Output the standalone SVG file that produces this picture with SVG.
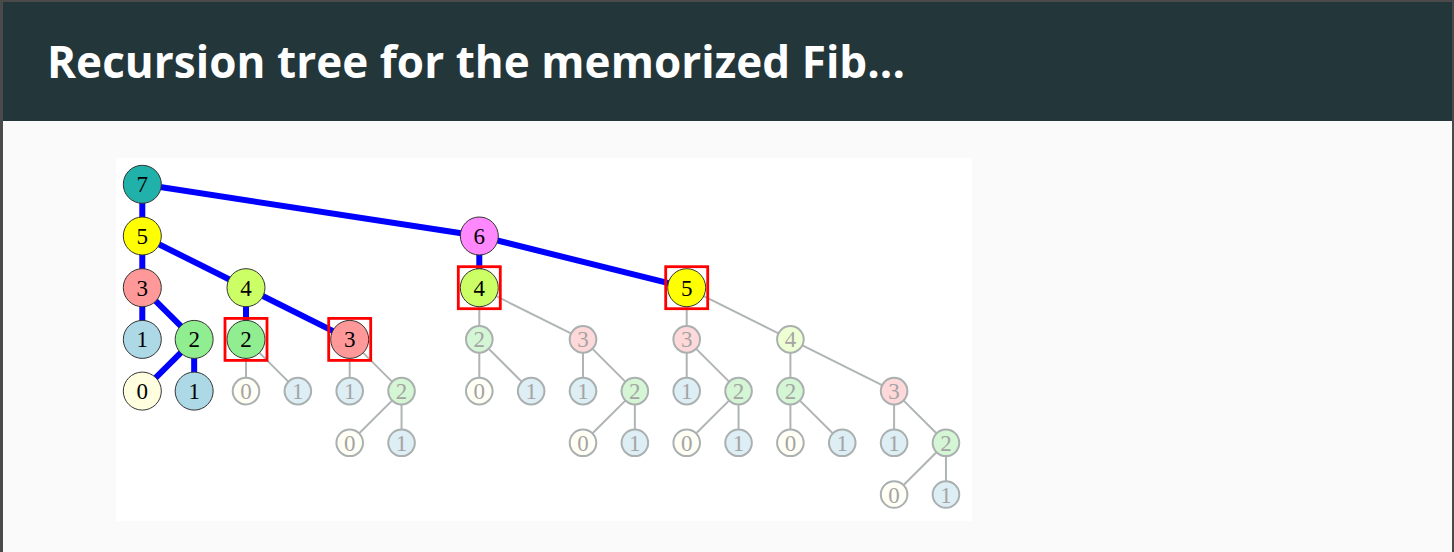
<svg xmlns="http://www.w3.org/2000/svg" width="1454" height="552" viewBox="0 0 1454 552">
<style>
.a{stroke:#333;stroke-width:1}
.g{stroke:#aab0b0;stroke-width:2}
.t{font-family:"Liberation Serif","DejaVu Serif",serif;font-size:23px;text-anchor:middle;fill:#000}
.gt{font-family:"Liberation Serif","DejaVu Serif",serif;font-size:23px;text-anchor:middle;fill:#a4a4a4}
.be{stroke:#0000ff;stroke-width:6;fill:none}
.ge{stroke:#b0b4b4;stroke-width:2;fill:none}
.box{fill:none;stroke:#ff0000;stroke-width:2.8}
</style>
<rect width="1454" height="552" fill="#4a4a4a"/>
<rect x="3" y="2" width="1449" height="550" fill="#fafafa"/>
<rect x="3" y="2" width="1449" height="119" fill="#23373b"/>
<text x="47" y="78" font-family="'Open Sans','Noto Sans',sans-serif" font-weight="bold" font-size="44" fill="#ffffff" textLength="858">Recursion tree for the memorized Fib...</text>
<rect x="116" y="158" width="856" height="363" fill="#ffffff"/>

<g id="connectors">
<g class="ge">
<line x1="246" y1="339.4" x2="246" y2="391.1"/>
<line x1="246" y1="339.4" x2="297.85" y2="391.1"/>
<line x1="349.7" y1="339.4" x2="349.7" y2="391.1"/>
<line x1="349.7" y1="339.4" x2="401.55" y2="391.1"/>
<line x1="401.55" y1="391.1" x2="349.7" y2="442.8"/>
<line x1="401.55" y1="391.1" x2="401.55" y2="442.8"/>
<line x1="479.3" y1="287.7" x2="479.3" y2="339.4"/>
<line x1="479.3" y1="287.7" x2="583" y2="339.4"/>
<line x1="479.3" y1="339.4" x2="479.3" y2="391.1"/>
<line x1="479.3" y1="339.4" x2="531.15" y2="391.1"/>
<line x1="583" y1="339.4" x2="583" y2="391.1"/>
<line x1="583" y1="339.4" x2="634.85" y2="391.1"/>
<line x1="634.85" y1="391.1" x2="583" y2="442.8"/>
<line x1="634.85" y1="391.1" x2="634.85" y2="442.8"/>
<line x1="686.7" y1="287.7" x2="686.7" y2="339.4"/>
<line x1="686.7" y1="287.7" x2="790.4" y2="339.4"/>
<line x1="686.7" y1="339.4" x2="686.7" y2="391.1"/>
<line x1="686.7" y1="339.4" x2="738.55" y2="391.1"/>
<line x1="738.55" y1="391.1" x2="686.7" y2="442.8"/>
<line x1="738.55" y1="391.1" x2="738.55" y2="442.8"/>
<line x1="790.4" y1="339.4" x2="790.4" y2="391.1"/>
<line x1="790.4" y1="339.4" x2="894.1" y2="391.1"/>
<line x1="790.4" y1="391.1" x2="790.4" y2="442.8"/>
<line x1="790.4" y1="391.1" x2="842.25" y2="442.8"/>
<line x1="894.1" y1="391.1" x2="894.1" y2="442.8"/>
<line x1="894.1" y1="391.1" x2="945.95" y2="442.8"/>
<line x1="945.95" y1="442.8" x2="894.1" y2="494.5"/>
<line x1="945.95" y1="442.8" x2="945.95" y2="494.5"/>
</g>
<g class="be">
<line x1="142.3" y1="184.3" x2="142.3" y2="236"/>
<line x1="142.3" y1="184.3" x2="479.3" y2="236"/>
<line x1="142.3" y1="236" x2="142.3" y2="287.7"/>
<line x1="142.3" y1="236" x2="246" y2="287.7"/>
<line x1="142.3" y1="287.7" x2="142.3" y2="339.4"/>
<line x1="142.3" y1="287.7" x2="194.15" y2="339.4"/>
<line x1="194.15" y1="339.4" x2="142.3" y2="391.1"/>
<line x1="194.15" y1="339.4" x2="194.15" y2="391.1"/>
<line x1="246" y1="287.7" x2="246" y2="339.4"/>
<line x1="246" y1="287.7" x2="349.7" y2="339.4"/>
<line x1="479.3" y1="236" x2="479.3" y2="287.7"/>
<line x1="479.3" y1="236" x2="686.7" y2="287.7"/>
</g>
</g>

<g id="n7"><circle cx="142.3" cy="184.3" r="19" fill="#20b2aa" class="a"/><text x="142.3" y="192.3" class="t">7</text></g>
<g id="n5"><circle cx="142.3" cy="236" r="19" fill="#ffff00" class="a"/><text x="142.3" y="244" class="t">5</text></g>
<g id="n6"><circle cx="479.3" cy="236" r="19" fill="#ff88ff" class="a"/><text x="479.3" y="244" class="t">6</text></g>
<g id="n3"><circle cx="142.3" cy="287.7" r="19" fill="#ff9999" class="a"/><text x="142.3" y="295.7" class="t">3</text></g>
<g id="n4"><circle cx="246" cy="287.7" r="19" fill="#ccff66" class="a"/><text x="246" y="295.7" class="t">4</text></g>
<g id="n4b"><circle cx="479.3" cy="287.7" r="19" fill="#ccff66" class="a"/><text x="479.3" y="295.7" class="t">4</text><rect x="458.3" y="266.7" width="42" height="42" class="box"/></g>
<g id="n5b"><circle cx="686.7" cy="287.7" r="19" fill="#ffff00" class="a"/><text x="686.7" y="295.7" class="t">5</text><rect x="665.7" y="266.7" width="42" height="42" class="box"/></g>
<g id="n1a"><circle cx="142.3" cy="339.4" r="19" fill="#add8e6" class="a"/><text x="142.3" y="347.4" class="t">1</text></g>
<g id="n2a"><circle cx="194.15" cy="339.4" r="19" fill="#90ee90" class="a"/><text x="194.15" y="347.4" class="t">2</text></g>
<g id="n2b"><circle cx="246" cy="339.4" r="19" fill="#90ee90" class="a"/><text x="246" y="347.4" class="t">2</text><rect x="225" y="318.4" width="42" height="42" class="box"/></g>
<g id="n3b"><circle cx="349.7" cy="339.4" r="19" fill="#ff9999" class="a"/><text x="349.7" y="347.4" class="t">3</text><rect x="328.7" y="318.4" width="42" height="42" class="box"/></g>
<g id="n0a"><circle cx="142.3" cy="391.1" r="19" fill="#ffffe0" class="a"/><text x="142.3" y="399.1" class="t">0</text></g>
<g id="n1b"><circle cx="194.15" cy="391.1" r="19" fill="#add8e6" class="a"/><text x="194.15" y="399.1" class="t">1</text></g>

<g id="g01"><circle cx="246" cy="391.1" r="13.3" fill="#fffff5" class="g"/><text x="246" y="399.1" class="gt">0</text></g>
<g id="g02"><circle cx="297.85" cy="391.1" r="13.3" fill="#ddeef5" class="g"/><text x="297.85" y="399.1" class="gt">1</text></g>
<g id="g03"><circle cx="349.7" cy="391.1" r="13.3" fill="#ddeef5" class="g"/><text x="349.7" y="399.1" class="gt">1</text></g>
<g id="g04"><circle cx="401.55" cy="391.1" r="13.3" fill="#d5f6d5" class="g"/><text x="401.55" y="399.1" class="gt">2</text></g>
<g id="g05"><circle cx="349.7" cy="442.8" r="13.3" fill="#fffff5" class="g"/><text x="349.7" y="450.8" class="gt">0</text></g>
<g id="g06"><circle cx="401.55" cy="442.8" r="13.3" fill="#ddeef5" class="g"/><text x="401.55" y="450.8" class="gt">1</text></g>
<g id="g07"><circle cx="479.3" cy="339.4" r="13.3" fill="#d5f6d5" class="g"/><text x="479.3" y="347.4" class="gt">2</text></g>
<g id="g08"><circle cx="583" cy="339.4" r="13.3" fill="#ffd9d9" class="g"/><text x="583" y="347.4" class="gt">3</text></g>
<g id="g09"><circle cx="479.3" cy="391.1" r="13.3" fill="#fffff5" class="g"/><text x="479.3" y="399.1" class="gt">0</text></g>
<g id="g10"><circle cx="531.15" cy="391.1" r="13.3" fill="#ddeef5" class="g"/><text x="531.15" y="399.1" class="gt">1</text></g>
<g id="g11"><circle cx="583" cy="391.1" r="13.3" fill="#ddeef5" class="g"/><text x="583" y="399.1" class="gt">1</text></g>
<g id="g12"><circle cx="634.85" cy="391.1" r="13.3" fill="#d5f6d5" class="g"/><text x="634.85" y="399.1" class="gt">2</text></g>
<g id="g13"><circle cx="583" cy="442.8" r="13.3" fill="#fffff5" class="g"/><text x="583" y="450.8" class="gt">0</text></g>
<g id="g14"><circle cx="634.85" cy="442.8" r="13.3" fill="#ddeef5" class="g"/><text x="634.85" y="450.8" class="gt">1</text></g>
<g id="g15"><circle cx="686.7" cy="339.4" r="13.3" fill="#ffd9d9" class="g"/><text x="686.7" y="347.4" class="gt">3</text></g>
<g id="g16"><circle cx="790.4" cy="339.4" r="13.3" fill="#eeffd4" class="g"/><text x="790.4" y="347.4" class="gt">4</text></g>
<g id="g17"><circle cx="686.7" cy="391.1" r="13.3" fill="#ddeef5" class="g"/><text x="686.7" y="399.1" class="gt">1</text></g>
<g id="g18"><circle cx="738.55" cy="391.1" r="13.3" fill="#d5f6d5" class="g"/><text x="738.55" y="399.1" class="gt">2</text></g>
<g id="g19"><circle cx="790.4" cy="391.1" r="13.3" fill="#d5f6d5" class="g"/><text x="790.4" y="399.1" class="gt">2</text></g>
<g id="g20"><circle cx="894.1" cy="391.1" r="13.3" fill="#ffd9d9" class="g"/><text x="894.1" y="399.1" class="gt">3</text></g>
<g id="g21"><circle cx="686.7" cy="442.8" r="13.3" fill="#fffff5" class="g"/><text x="686.7" y="450.8" class="gt">0</text></g>
<g id="g22"><circle cx="738.55" cy="442.8" r="13.3" fill="#ddeef5" class="g"/><text x="738.55" y="450.8" class="gt">1</text></g>
<g id="g23"><circle cx="790.4" cy="442.8" r="13.3" fill="#fffff5" class="g"/><text x="790.4" y="450.8" class="gt">0</text></g>
<g id="g24"><circle cx="842.25" cy="442.8" r="13.3" fill="#ddeef5" class="g"/><text x="842.25" y="450.8" class="gt">1</text></g>
<g id="g25"><circle cx="894.1" cy="442.8" r="13.3" fill="#ddeef5" class="g"/><text x="894.1" y="450.8" class="gt">1</text></g>
<g id="g26"><circle cx="945.95" cy="442.8" r="13.3" fill="#d5f6d5" class="g"/><text x="945.95" y="450.8" class="gt">2</text></g>
<g id="g27"><circle cx="894.1" cy="494.5" r="13.3" fill="#fffff5" class="g"/><text x="894.1" y="502.5" class="gt">0</text></g>
<g id="g28"><circle cx="945.95" cy="494.5" r="13.3" fill="#ddeef5" class="g"/><text x="945.95" y="502.5" class="gt">1</text></g>
</svg>
